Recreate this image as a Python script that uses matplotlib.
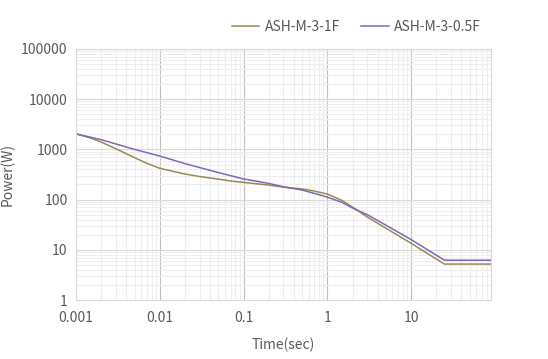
import matplotlib
matplotlib.use("Agg")
import matplotlib.pyplot as plt
from matplotlib.ticker import LogLocator, FixedLocator, FixedFormatter, NullFormatter

plt.rcParams['font.family'] = ['Noto Sans CJK SC', 'DejaVu Sans']

# data
t_1f = [0.001, 0.0015, 0.002, 0.003, 0.005, 0.007, 0.01, 0.015, 0.02, 0.03, 0.05, 0.07, 0.1,
        0.2, 0.3, 0.5, 0.7, 1, 1.5, 2, 3, 5, 10, 25, 90]
p_1f = [2040, 1680, 1400, 1030, 685, 530, 420, 360, 323, 288, 256, 235, 220,
        195, 177, 163, 148, 129, 96, 71, 45, 27, 13.5, 5.2, 5.2]

t_05f = [0.001, 0.002, 0.005, 0.01, 0.02, 0.05, 0.1, 0.2, 0.3, 0.5, 0.7, 1, 1.5, 2, 3, 5, 10, 25, 90]
p_05f = [2040, 1560, 1000, 738, 520, 346, 258, 210, 180, 155, 133, 112, 88, 68, 50, 31, 16, 6.2, 6.2]

x_ticks = [0.001, 0.01, 0.1, 1, 10]
x_labels = ["0.001", "0.01", "0.1", "1", "10"]
y_ticks = [1, 10, 100, 1000, 10000, 100000]
y_labels = ["1", "10", "100", "1000", "10000", "100000"]

txt = "#595959"

fig = plt.figure(figsize=(5.48, 3.59), dpi=100)
ax = fig.add_axes([76 / 548, 1 - 300 / 359, (491 - 76) / 548, (300 - 49) / 359])

ax.plot(t_1f, p_1f, color="#968A55", lw=1.1, label="ASH-M-3-1F")
ax.plot(t_05f, p_05f, color="#7F68B8", lw=1.1, label="ASH-M-3-0.5F")

ax.set_xscale("log")
ax.set_yscale("log")
ax.set_xlim(0.001, 90)
ax.set_ylim(1, 100000)

ax.xaxis.set_major_locator(FixedLocator(x_ticks))
ax.xaxis.set_major_formatter(FixedFormatter(x_labels))
ax.yaxis.set_major_locator(FixedLocator(y_ticks))
ax.yaxis.set_major_formatter(FixedFormatter(y_labels))
ax.xaxis.set_minor_locator(LogLocator(base=10, subs=range(2, 10), numticks=20))
ax.yaxis.set_minor_locator(LogLocator(base=10, subs=range(2, 10), numticks=20))
ax.xaxis.set_minor_formatter(NullFormatter())
ax.yaxis.set_minor_formatter(NullFormatter())

ax.grid(True, which="minor", color="#EEEEEE", lw=0.8)
ax.xaxis.grid(True, which="major", color="#BFBFBF", lw=0.8)
ax.yaxis.grid(True, which="major", color="#D9D9D9", lw=0.8)
ax.set_axisbelow(True)
ax.tick_params(which="both", length=0, colors=txt, labelsize=10)
ax.tick_params(axis="x", pad=8)
ax.tick_params(axis="y", pad=6)
for s in ax.spines.values():
    s.set_color("#D9D9D9")
    s.set_linewidth(0.8)

ax.set_xlabel("Time(sec)", color=txt, fontsize=10, labelpad=9)
ax.set_ylabel("Power(W)", color=txt, fontsize=10)
ax.yaxis.set_label_coords(-0.148, 0.5)

ax.legend(loc="lower right", bbox_to_anchor=(1.0, 1.02), ncol=2, frameon=False,
          fontsize=10, labelcolor=txt, handlelength=2.0, handletextpad=0.4,
          columnspacing=1.5, borderaxespad=0.3)

fig.savefig("out.png", dpi=100)
